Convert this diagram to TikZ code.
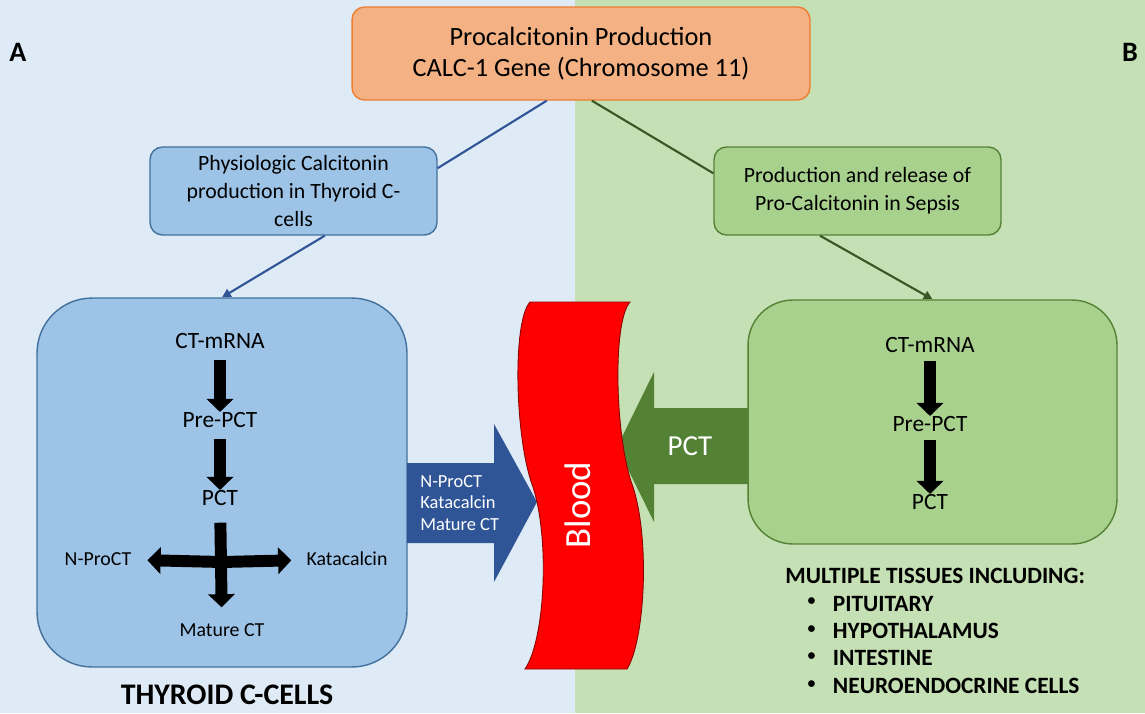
\documentclass[tikz,border=0pt]{standalone}
\usepackage{fontspec}
\setmainfont{Carlito}
\usetikzlibrary{positioning,arrows.meta}

\definecolor{leftbg}{HTML}{DEEAF6}
\definecolor{rightbg}{HTML}{C5E0B4}
\definecolor{orangefill}{HTML}{F4B183}
\definecolor{orangeline}{HTML}{ED7D31}
\definecolor{bluefill}{HTML}{9DC3E6}
\definecolor{blueline}{HTML}{41719C}
\definecolor{bluedark}{HTML}{2F5597}
\definecolor{greenfill}{HTML}{A9D18E}
\definecolor{greenline}{HTML}{548235}
\definecolor{greendark}{HTML}{385723}
\definecolor{bloodred}{HTML}{FF0000}
\definecolor{bloodline}{HTML}{8B0000}

\newcommand{\tisbullet}{\hspace*{0.95em}\raisebox{0.22em}{\fontsize{9}{9}\selectfont\textbullet}\hspace{0.75em}}

\tikzset{
  genebox/.style={draw=orangeline, fill=orangefill, line width=0.8pt, rounded corners=0.25cm, align=center,
    minimum width=9.16cm, minimum height=1.86cm, font=\fontsize{15}{18}\selectfont},
  thybox/.style={draw=blueline, fill=bluefill, line width=0.8pt, rounded corners=0.25cm, align=center,
    minimum width=5.74cm, minimum height=1.76cm, font=\fontsize{12.4}{15.8}\selectfont},
  sepbox/.style={draw=greenline, fill=greenfill, line width=0.8pt, rounded corners=0.25cm, align=center,
    minimum width=5.74cm, minimum height=1.76cm, font=\fontsize{12.4}{15.8}\selectfont},
  item/.style={inner sep=0pt, font=\fontsize{13.3}{15}\selectfont},
  smallitem/.style={inner sep=0pt, font=\fontsize{11.3}{13}\selectfont},
  blk/.style={line width=6.8pt, -{Triangle[length=7.5pt,width=15pt]}},
  link/.style={line width=1.2pt},
  linkarrow/.style={line width=1.2pt, -{Triangle[length=5pt,width=5pt]}},
}

\begin{document}
\begin{tikzpicture}[x=0.02cm, y=-0.02cm]
  % background halves
  \useasboundingbox (0,0) rectangle (1145,713);
  \fill[leftbg] (0,0) rectangle (575,713);
  \fill[rightbg] (575,0) rectangle (1145,713);

  % panel letters
  \node[font=\fontsize{16}{18}\selectfont\bfseries] (pa) at (18,52) {A};
  \node[font=\fontsize{16}{18}\selectfont\bfseries] (pb) at (1130,52) {B};

  % top and middle boxes
  \node[genebox] (gene) at (581,53.5) {Procalcitonin Production\\CALC-1 Gene (Chromosome 11)};
  \node[thybox] (phys) at (293.5,191) {Physiologic Calcitonin\\production in Thyroid C-\\cells};
  \node[sepbox] (sepsis) at (857.5,191) {Production and release of\\Pro-Calcitonin in Sepsis};

  % big boxes
  \node[draw=blueline, fill=bluefill, line width=0.8pt, rounded corners=1.1cm,
    minimum width=7.4cm, minimum height=7.38cm] (thyroid) at (222,482.5) {};
  \node[draw=greenline, fill=greenfill, line width=0.8pt, rounded corners=0.9cm,
    minimum width=7.38cm, minimum height=4.88cm] (tissue) at (932.5,422) {};

  % links from the gene box
  \draw[link, bluedark] (gene.234) -- (phys.9);
  \draw[link, greendark] (gene.283) -- (sepsis.173);
  \draw[linkarrow, bluedark] (phys.305) -- (thyroid.north);
  \draw[linkarrow, greendark] (sepsis.230) -- (tissue.north);

  % thyroid cascade
  \node[item] (tmrna) at (220,341) {CT-mRNA};
  \node[item] (tpre) at (220,420) {Pre-PCT};
  \node[item] (tpct) at (220,498) {PCT};
  \node[smallitem] (nproct) at (98,559) {N-ProCT};
  \node[smallitem] (kata) at (347,559) {Katacalcin};
  \node[smallitem] (mature) at (222,630) {Mature CT};
  \coordinate (cross) at (222,562);
  \draw[blk, shorten <=6pt, shorten >=0pt] (tmrna) -- (tpre);
  \draw[blk, shorten <=6pt, shorten >=0pt] (tpre) -- (tpct);
  \draw[blk, shorten <=9.5pt, shorten >=9pt] (tpct) -- (mature);
  \draw[blk, shorten >=9pt] (cross) -- (nproct);
  \draw[blk, shorten >=8.5pt] (cross) -- (kata);

  \node[font=\fontsize{17}{19}\selectfont\bfseries] (thyname) at (227,695) {THYROID C-CELLS};

  % sepsis cascade
  \node[item] (smrna) at (930,345) {CT-mRNA};
  \node[item] (spre) at (930,424) {Pre-PCT};
  \node[item] (spct) at (930,502) {PCT};
  \draw[blk, shorten <=4.5pt, shorten >=0pt] (smrna) -- (spre);
  \draw[blk, shorten <=4.5pt, shorten >=0pt] (spre) -- (spct);

  \node[anchor=north west, inner sep=0pt, align=left, font=\fontsize{13.3}{15.6}\selectfont\bfseries] (tissues) at (785,568)
    {MULTIPLE TISSUES INCLUDING:\\
     \tisbullet PITUITARY\\
     \tisbullet HYPOTHALAMUS\\
     \tisbullet INTESTINE\\
     \tisbullet NEUROENDOCRINE CELLS};

  % block arrows into the blood
  \fill[bluedark] (407,463) -- (494,463) -- (494,424) -- (537,502) -- (494,582) -- (494,543) -- (407,543) -- cycle;
  \node[anchor=west, inner sep=0pt, align=left, text=white, font=\fontsize{10.5}{12}\selectfont] (outlist) at (420,503)
    {N-ProCT\\Katacalcin\\Mature CT};
  \fill[greenline] (748,408) -- (654,408) -- (654,372) -- (617,447) -- (654,522) -- (654,484) -- (748,484) -- cycle;
  \node[text=white, font=\fontsize{16.5}{19}\selectfont] (pctout) at (690,446) {PCT};

  % blood vessel
  \draw[fill=bloodred, draw=bloodline, line width=0.5pt]
    (530,302) .. controls (512,322) and (515,440) .. (533,487)
    .. controls (550,540) and (545,640) .. (525,669)
    -- (627,669)
    .. controls (645,640) and (650,540) .. (633,487)
    .. controls (615,440) and (612,322) .. (630,302) -- cycle;
  \node[rotate=90, text=white, font=\fontsize{21}{24}\selectfont] (blood) at (578,505) {Blood};
\end{tikzpicture}
\end{document}
